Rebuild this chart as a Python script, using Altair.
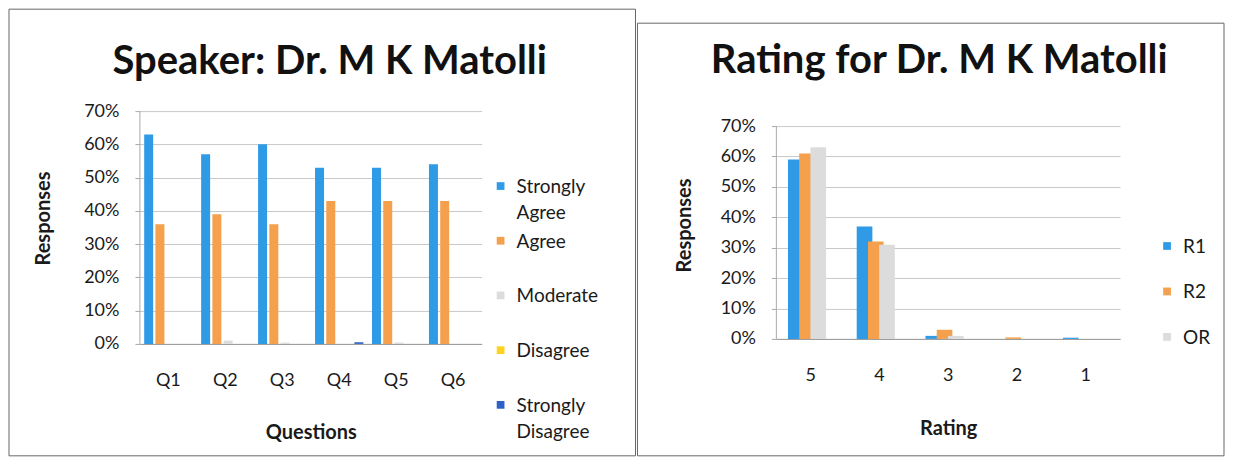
import altair as alt
import pandas as pd

# ---------------- data ----------------
TITLE_L = "Speaker: Dr. M K Matolli"
TITLE_R = "Rating for Dr. M K Matolli"

QUESTIONS = ["Q1", "Q2", "Q3", "Q4", "Q5", "Q6"]
SERIES_L = ["Strongly Agree", "Agree", "Moderate", "Disagree", "Strongly Disagree"]
LEGEND_L = ["Strongly\nAgree", "Agree", "Moderate", "Disagree", "Strongly\nDisagree"]
COLORS_L = ["#2f9ae6", "#f4a04c", "#dcdcdc", "#ffd21f", "#2c62c6"]
strongly_agree = [0.63, 0.57, 0.60, 0.53, 0.53, 0.54]
agree = [0.36, 0.39, 0.36, 0.43, 0.43, 0.43]
moderate = [0.0, 0.01, 0.004, 0.0, 0.004, 0.0]
disagree = [0.0, 0.0, 0.0, 0.0, 0.0, 0.0]
strongly_disagree = [0.0, 0.0, 0.0, 0.005, 0.0, 0.0]

RATINGS = ["5", "4", "3", "2", "1"]
SERIES_R = ["R1", "R2", "OR"]
COLORS_R = ["#3399e6", "#f59a42", "#e2dde2"]
r1 = [0.59, 0.37, 0.01, 0.0, 0.004]
r2 = [0.61, 0.32, 0.03, 0.005, 0.0]
overall = [0.63, 0.31, 0.01, 0.0, 0.0]

Y_TICKS = [0, 0.1, 0.2, 0.3, 0.4, 0.5, 0.6, 0.7]

# ---------------- tables ----------------
left_vals = [strongly_agree, agree, moderate, disagree, strongly_disagree]
dfL = pd.DataFrame([
    {"q": q, "series": s, "value": v[i]}
    for s, v in zip(SERIES_L, left_vals) for i, q in enumerate(QUESTIONS)
])
right_vals = [r1, r2, overall]
dfR = pd.DataFrame([
    {"rating": r, "series": s, "value": v[i]}
    for s, v in zip(SERIES_R, right_vals) for i, r in enumerate(RATINGS)
])
legL = pd.DataFrame({"series": SERIES_L, "label": LEGEND_L, "slot": list(range(len(SERIES_L)))})
legR = pd.DataFrame({"series": SERIES_R, "label": SERIES_R, "slot": list(range(len(SERIES_R)))})
axis_line = pd.DataFrame({"y0": [Y_TICKS[0]], "y1": [Y_TICKS[-1]]})

FONT = "Lato"
TXT = "#1a1a1a"


def panel(df, xfield, xorder, xtitle, series, colors, legdf, title,
          width, height, ymax, pad, group_w, leg_x, leg_range, frame, title_x, title_y,
          ytitle_x, ytitle_y, xtitle_y):
    color = alt.Color("series:N", scale=alt.Scale(domain=series, range=colors), legend=None)
    yscale = alt.Scale(domain=[0, ymax], nice=False)
    yaxis = alt.Axis(format=".0%", values=Y_TICKS, title="Responses",
                     titleFontSize=20, titleFontWeight="bold", titleColor=TXT,
                     titleX=ytitle_x, titleY=ytitle_y, titleBaseline="middle",
                     labelFontSize=18, labelColor=TXT, labelPadding=16,
                     labelOverlap=False,
                     tickSize=5, tickColor="#aaa", domain=False,
                     gridColor="#c9c9c9", gridWidth=1)
    xaxis = alt.Axis(title=xtitle, labelAngle=0, labelFontSize=18, labelColor=TXT,
                     labelPadding=28, ticks=False, domainColor="#999",
                     titleFontSize=20, titleFontWeight="bold", titleColor=TXT,
                     titleY=xtitle_y, titleBaseline="middle")
    n = len(series)
    bars = alt.Chart(df).mark_bar(width=group_w / n).encode(
        x=alt.X(f"{xfield}:N", sort=xorder, axis=xaxis,
                scale=alt.Scale(paddingInner=pad, paddingOuter=pad / 2)),
        xOffset=alt.XOffset("series:N", sort=series,
                            scale=alt.Scale(range=[0, group_w],
                                            paddingInner=0, paddingOuter=0)),
        y=alt.Y("value:Q", scale=yscale, axis=yaxis),
        color=color,
    )
    yline = alt.Chart(axis_line).mark_rule(color="#aaa", strokeWidth=1).encode(
        x=alt.value(0),
        y=alt.Y("y0:Q", scale=yscale, axis=yaxis),
        y2="y1:Q",
    )
    lscale = alt.Scale(domain=[0, n - 1], range=leg_range, nice=False, zero=False)
    sq = alt.Chart(legdf).mark_point(shape="square", filled=True, size=60, opacity=1).encode(
        x=alt.value(leg_x),
        y=alt.Y("slot:Q", scale=lscale, axis=None),
        color=color,
    )
    tx = alt.Chart(legdf).mark_text(align="left", baseline="alphabetic", dy=7,
                                    fontSize=19, font=FONT, color=TXT,
                                    lineBreak="\n", lineHeight=26).encode(
        x=alt.value(leg_x + 16),
        y=alt.Y("slot:Q", scale=lscale, axis=None),
        text="label:N",
    )
    ttl = alt.Chart(pd.DataFrame({"t": [title]})).mark_text(
        align="center", baseline="alphabetic", fontSize=40, fontWeight="bold",
        font=FONT, color="#111").encode(
        x=alt.value(title_x), y=alt.value(title_y), text="t:N")
    fr = alt.Chart(pd.DataFrame({"a": [0]})).mark_rect(
        fillOpacity=0, stroke="#666", strokeWidth=1).encode(
        x=alt.value(frame[0]), x2=alt.value(frame[1]),
        y=alt.value(frame[2]), y2=alt.value(frame[3]))
    base = alt.layer(bars, yline)
    return alt.layer(fr, base, sq, tx, ttl).resolve_scale(y="independent").properties(
        width=width, height=height)


left = panel(dfL, "q", QUESTIONS, "Questions", SERIES_L, COLORS_L, legL, TITLE_L,
             width=342, height=233, ymax=0.7, pad=0.21, group_w=45,
             leg_x=361, leg_range=[75, 294],
             frame=(-131, 496, -102, 345), title_x=190, title_y=-37,
             ytitle_x=-96, ytitle_y=107, xtitle_y=89)

# the right panel's plot area starts 15px above its 70% line
right = panel(dfR, "rating", RATINGS, "Rating", SERIES_R, COLORS_R, legR, TITLE_R,
              width=344, height=228, ymax=0.7 * 228 / 213, pad=0.32, group_w=47,
              leg_x=391, leg_range=[135, 226],
              frame=(-139, 448, -88, 345), title_x=163, title_y=-38,
              ytitle_x=-92, ytitle_y=114, xtitle_y=90)

chart = alt.hconcat(left, right, spacing=0).properties(
    padding=0, background="white"
).configure(font=FONT).configure_view(stroke=None).configure_scale(
    offsetBandPaddingInner=0, offsetBandPaddingOuter=0
)

chart.save("out.html", embed_options={"renderer": "svg", "actions": False})
